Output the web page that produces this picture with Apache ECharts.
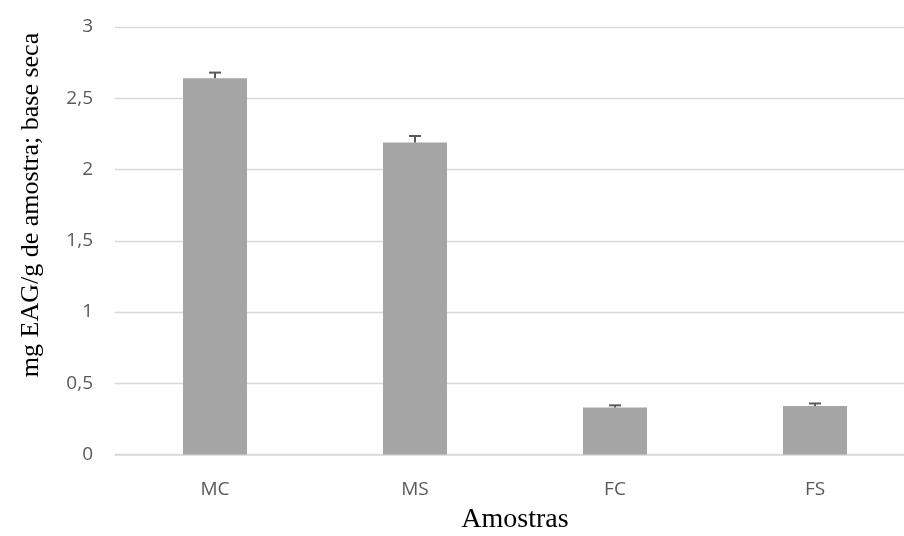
<!DOCTYPE html>
<html>
<head>
<meta charset="utf-8">
<script src="https://cdn.jsdelivr.net/npm/echarts@6/dist/echarts.min.js"></script>
<style>html,body{margin:0;padding:0;background:#fff}#c{width:904px;height:536px}</style>
</head>
<body>
<div id="c"></div>
<script>
var categories = ['MC', 'MS', 'FC', 'FS'];
var values = [2.64, 2.19, 0.33, 0.34];
var errors = [0.04, 0.045, 0.015, 0.018];
var yTicks = [0, 0.5, 1, 1.5, 2, 2.5, 3];
var yTitle = 'mg EAG/g de amostra; base seca';
var xTitle = 'Amostras';

var chart = echarts.init(document.getElementById('c'), null, {renderer: 'canvas'});
var errData = categories.map(function (c, i) { return [i, values[i] - errors[i], values[i] + errors[i]]; });

chart.setOption({
  animation: false,
  backgroundColor: '#ffffff',
  grid: {left: 115, width: 800, top: 27, height: 427.5, containLabel: false, outerBoundsMode: 'none'},
  xAxis: {
    type: 'category',
    data: categories,
    axisLine: {lineStyle: {color: '#D9D9D9', width: 1.5}},
    axisTick: {show: false},
    axisLabel: {color: '#595959', fontFamily: 'Open Sans', fontSize: 19, margin: 26},
    name: xTitle,
    nameLocation: 'middle',
    nameGap: 51,
    nameTextStyle: {color: '#000', fontFamily: 'Liberation Serif', fontSize: 28}
  },
  yAxis: {
    type: 'value',
    min: 0, max: 3, interval: 0.5,
    axisLine: {show: false},
    axisTick: {show: false},
    splitLine: {lineStyle: {color: '#D9D9D9', width: 1.3}},
    axisLabel: {
      color: '#595959', fontFamily: 'Open Sans', fontSize: 19, margin: 22,
      formatter: function (v) { return yTicks.indexOf(v) >= 0 ? String(v).replace('.', ',') : ''; }
    }
  },
  graphic: [{
    type: 'text',
    x: 31, y: 205,
    rotation: Math.PI / 2,
    style: {
      text: yTitle,
      fill: '#000',
      font: '26px "Liberation Serif"',
      textAlign: 'center',
      textVerticalAlign: 'middle'
    }
  }],
  series: [
    {
      type: 'bar',
      data: values,
      barWidth: 64,
      itemStyle: {color: '#A5A5A5'}
    },
    {
      type: 'custom',
      data: errData,
      z: 5,
      renderItem: function (params, api) {
        var x = api.value(0);
        var hi = api.coord([x, api.value(2)]);
        var mid = api.coord([x, values[x]]);
        var hw = 6;
        var style = {stroke: '#595959', lineWidth: 2};
        return {
          type: 'group',
          children: [
            {type: 'line', shape: {x1: mid[0], y1: mid[1], x2: hi[0], y2: hi[1]}, style: style},
            {type: 'line', shape: {x1: hi[0] - hw, y1: hi[1], x2: hi[0] + hw, y2: hi[1]}, style: style}
          ]
        };
      }
    }
  ]
});
</script>
</body>
</html>
